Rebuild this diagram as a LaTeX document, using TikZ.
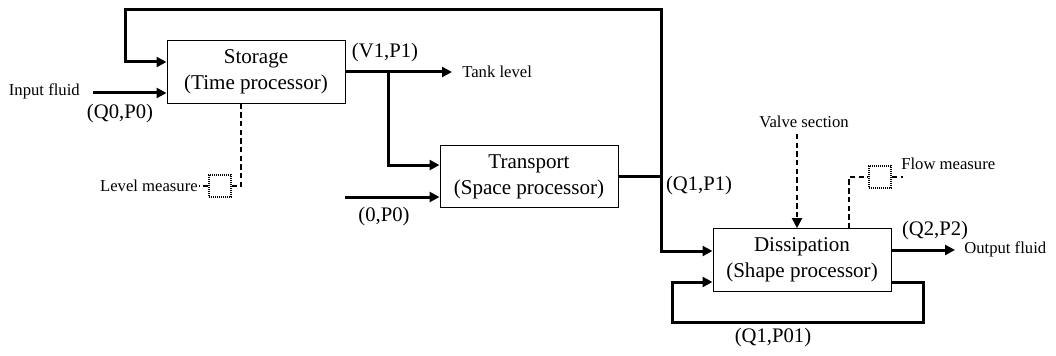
\documentclass[tikz,border=0pt]{standalone}
\usepackage{fontspec}
\setmainfont{Liberation Serif}
\usetikzlibrary{arrows.meta}

\tikzset{
  procbox/.style={draw, line width=0.75pt, minimum width=133.5pt, minimum height=47pt,
    inner sep=0pt, align=center, font=\fontsize{15.8}{19.5}\selectfont},
  flow/.style={line width=2.25pt},
  flowarr/.style={flow, -{Triangle[length=7.5pt,width=7.5pt]}},
  signal/.style={line width=1.5pt, dash pattern=on 4pt off 2.5pt},
  sensor/.style={draw, line width=1.7pt, dash pattern=on 0.9pt off 0.6pt, minimum size=16.5pt, inner sep=0pt},
  biglbl/.style={font=\fontsize{15.5}{18}\selectfont, inner sep=0.75pt},
  smalllbl/.style={font=\fontsize{12.5}{15}\selectfont, inner sep=0.75pt},
}

\begin{document}
\begin{tikzpicture}[x=0.75pt,y=0.75pt,yscale=-1,xscale=1]
\useasboundingbox (0,0) rectangle (1056,356);

%Shape: Rectangle [id:storage]
\node [procbox] (storage) at (256,72) {Storage\\(Time processor)};
%Shape: Rectangle [id:transport]
\node [procbox] (transport) at (529,176.5) {Transport\\(Space processor)};
%Shape: Rectangle [id:dissip]
\node [procbox] (dissip) at (802,260) {Dissipation\\(Shape processor)};

%Shape: Square [id:lvlsens]
\node [sensor] (lvlsens) at (220,186) {};
%Shape: Square [id:flowsens]
\node [sensor] (flowsens) at (880,177) {};

% Text Node
\node [smalllbl, anchor=east] (inlbl) at (81,91) {Input fluid};
\node [biglbl] (q0p0) at (120,114) {(Q0,P0)};
\node [smalllbl, anchor=east] (lvllbl) at (199,186) {Level measure};
\node [biglbl] (v1p1) at (385,53) {(V1,P1)};
\node [smalllbl, anchor=west] (tanklbl) at (461,72) {Tank level};
\node [biglbl] (zp0) at (384,217) {(0,P0)};
\node [biglbl] (q1p1) at (699,186) {(Q1,P1)};
\node [smalllbl] (valvelbl) at (804,122) {Valve section};
\node [smalllbl, anchor=west] (flowlbl) at (900,164) {Flow measure};
\node [biglbl] (q2p2) at (935,231) {(Q2,P2)};
\node [smalllbl, anchor=west] (outlbl) at (963,249) {Output fluid};
\node [biglbl] (q1p01) at (773,338) {(Q1,P01)};

% Coordinates
\coordinate (inq0) at (93,93);
\coordinate (fbtl) at (125,10);
\coordinate (fbtr) at (661,10);
\coordinate (tank) at (452,72);
\coordinate (v1jn) at (388,72);
\coordinate (in0) at (345,197);
\coordinate (outfl) at (955,250);
\coordinate (lpbr) at (923,322);
\coordinate (lpbl) at (672,322);
\coordinate (lvlcrn) at (241,186);
\coordinate (vlvtop) at (797,134);
\coordinate (flcrn) at (849,177);

%Straight Lines [id:input fluid]
\draw [flowarr] (inq0) -- (inq0 -| storage.west);
%Straight Lines [id:feedback to storage]
\draw [flowarr] (transport.east) -| (fbtr) -- (fbtl) |- ([yshift=-7.5pt]storage.west);
%Straight Lines [id:to dissipation]
\draw [flowarr] (transport.east -| fbtr) |- ([yshift=-6.75pt]dissip.west);
%Straight Lines [id:tank level]
\draw [flowarr] (storage.east) -- (tank);
%Straight Lines [id:to transport]
\draw [flowarr] (v1jn) |- ([yshift=-8.6pt]transport.west);
\draw [flowarr] (in0) -- (in0 -| transport.west);
%Straight Lines [id:output fluid]
\draw [flowarr] (dissip.east |- outfl) -- (outfl);
%Straight Lines [id:dissipation loop]
\draw [flowarr] ([yshift=16.5pt]dissip.east) -| (lpbr) -| (lpbl) |- ([yshift=16.5pt]dissip.west);

%Dashed Lines [id:level measure]
\draw [signal] (lvlcrn |- storage.south) |- (lvlsens.east);
\draw [signal] (lvlsens.west) -- (lvllbl.east);
%Dashed Lines [id:valve section]
\draw [signal, -{Triangle[length=7.5pt,width=7.5pt]}] (vlvtop) -- (vlvtop |- dissip.north);
%Dashed Lines [id:flow measure]
\draw [signal] (flcrn |- dissip.north) |- (flowsens.west);
\draw [signal] (flowsens.east) -- ++(11,0);

\end{tikzpicture}
\end{document}
